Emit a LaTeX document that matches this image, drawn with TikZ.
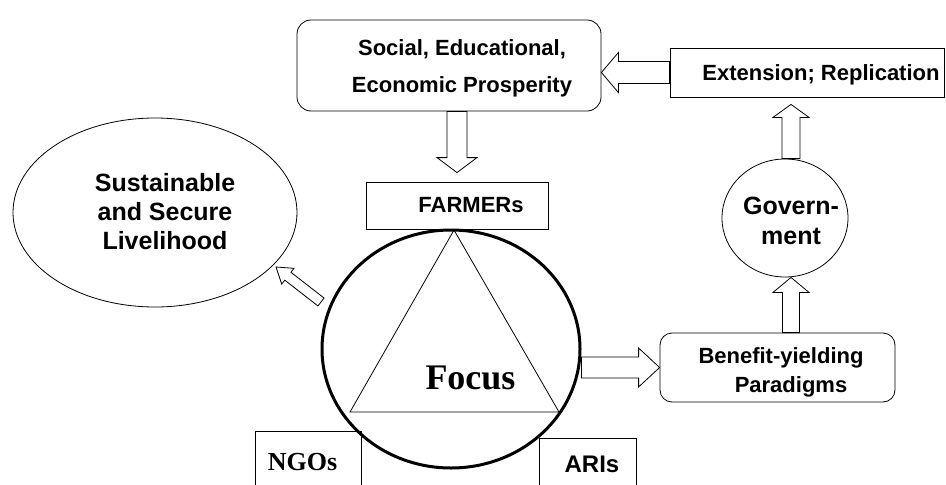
\documentclass[tikz,border=0pt]{standalone}
\usepackage{fontspec}
\setmainfont{Liberation Sans}
\newfontfamily\serifrm{Liberation Serif}
\usetikzlibrary{calc,shapes.geometric}
\tikzstyle{box}=[rectangle,draw,line width=0.8pt,inner sep=0pt]
\tikzstyle{rbox}=[box,rounded corners=14pt]
\tikzstyle{oval}=[ellipse,draw,line width=0.8pt,inner sep=0pt]
\tikzstyle{txt}=[font=\bfseries\fontsize{22}{37}\selectfont,align=center,inner sep=0pt]
\tikzstyle{bigtxt}=[font=\bfseries\fontsize{25}{29}\selectfont,align=center,inner sep=0pt]
\tikzstyle{serif}=[font=\serifrm\bfseries\fontsize{26}{30}\selectfont,inner sep=0pt]
% hollow block arrow: from, to, shaft half width, head half width, head length
\newcommand{\fatarrow}[5]{%
  \coordinate (fa-s) at (#1);
  \coordinate (fa-t) at (#2);
  \coordinate (fa-b) at ($(fa-t)!#5!(fa-s)$);
  \draw[line width=0.8pt] ($(fa-s)!#3!90:(fa-t)$) -- ($(fa-b)!#3!90:(fa-t)$) -- ($(fa-b)!#4!90:(fa-t)$)
    -- (fa-t) -- ($(fa-b)!#4!-90:(fa-t)$) -- ($(fa-b)!#3!-90:(fa-t)$) -- ($(fa-s)!#3!-90:(fa-t)$) -- cycle;
}

\begin{document}
\begin{tikzpicture}[x=1pt,y=-1pt]
  \clip (0,0) rectangle (946,485);
  \node[rbox,minimum width=304,minimum height=91] (social) at (449,65.5) {};
  \node[txt] (social-t) at (462,68) {Social, Educational,\\Economic Prosperity};
  \node[box,minimum width=274,minimum height=49] (ext) at (807,72.5) {};
  \node[txt,anchor=base] (ext-t) at (821,80) {Extension; Replication};
  \node[box,minimum width=182,minimum height=47] (farm) at (457,205.5) {};
  \node[txt,anchor=base] (farm-t) at (471,212) {FARMERs};
  \node[oval,minimum width=284,minimum height=189] (live) at (155,212.5) {};
  \node[bigtxt] (live-t) at (165,212) {Sustainable\\and Secure\\Livelihood};
  \node[oval,minimum width=126,minimum height=118] (gov) at (785,218) {};
  \node[bigtxt,font=\bfseries\fontsize{25}{30}\selectfont] (gov-t) at (791,221) {Govern-\\ment};
  \node[rbox,rounded corners=12pt,minimum width=235,minimum height=69] (ben) at (777.5,367.5) {};
  \node[txt,font=\bfseries\fontsize{22}{29}\selectfont] (ben-t) at (781,372) {Benefit-yielding\\\hspace*{20pt}Paradigms};
  \node[box,minimum width=106,minimum height=70] (ngo) at (308,466) {};
  \node[serif,anchor=base] (ngo-t) at (302.5,470) {NGOs};
  \node[box,minimum width=97,minimum height=68] (ari) at (587.5,472) {};
  \node[txt,font=\bfseries\fontsize{24}{28}\selectfont,anchor=base] (ari-t) at (592,472) {ARIs};

  % the focus circle with its triangle
  \node[ellipse,draw,line width=3pt,inner sep=0pt,minimum width=258,minimum height=238] (focus) at (451,349) {};
  \coordinate (apex) at (454,230);
  \coordinate (bl) at (350,412);
  \coordinate (br) at (559,412);
  \draw[line width=0.8pt] (apex) -- (bl) -- (br) -- cycle;
  \node[serif,font=\serifrm\bfseries\fontsize{36}{40}\selectfont,anchor=base] (focus-t) at (470.5,389) {Focus};

  % block arrows
  \fatarrow{ext.west}{social.east |- ext.west}{11pt}{20pt}{17pt}
  \fatarrow{farm.north |- social.south}{[yshift=9pt]farm.north}{10pt}{20pt}{15pt}
  \fatarrow{focus.east |- ben.west}{ben.west}{10.5pt}{19.5pt}{21pt}
  \fatarrow{$(gov.south |- ben.north)+(6,0)$}{$(gov.south)+(6,0)$}{8.5pt}{18pt}{15pt}
  \fatarrow{$(gov.north)+(6,0)$}{$(gov.north |- ext.south)+(6,7)$}{9pt}{18pt}{13pt}
  \coordinate (sl-tail) at (321,302);
  \coordinate (sl-tip) at (276,267);
  \fatarrow{sl-tail}{sl-tip}{5pt}{10pt}{15pt}
\end{tikzpicture}
\end{document}
